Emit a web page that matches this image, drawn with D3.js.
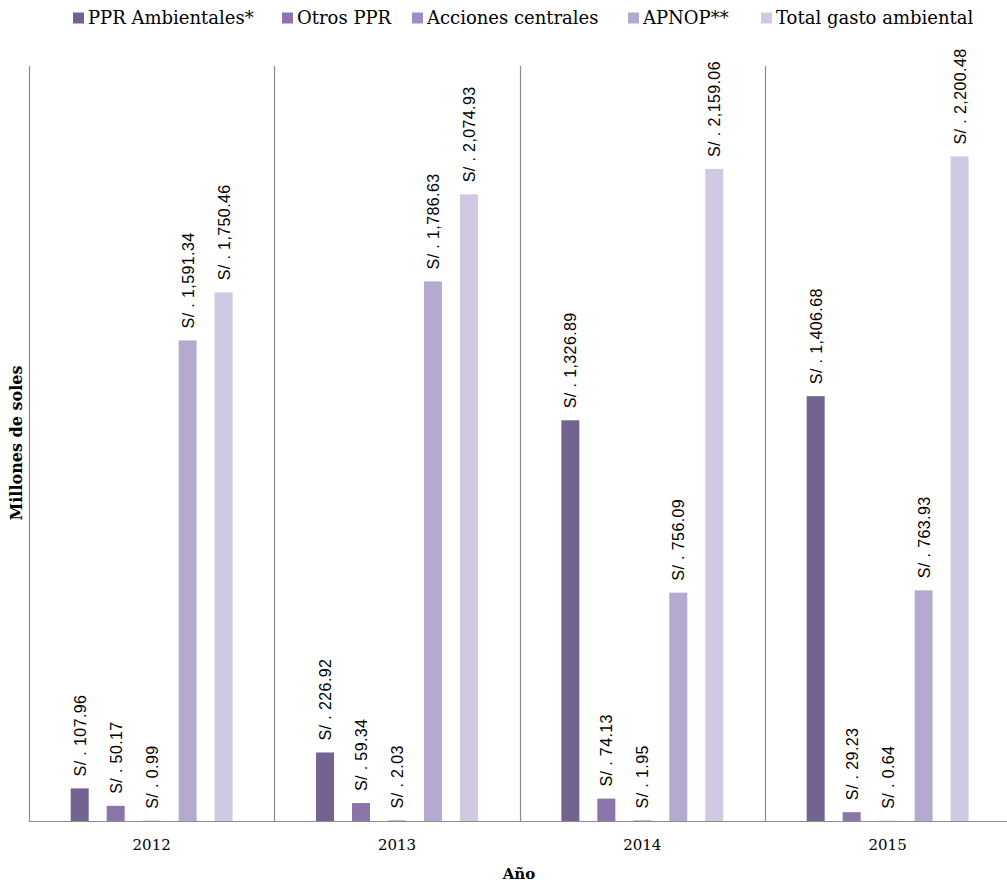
<!DOCTYPE html>
<html>
<head>
<meta charset="utf-8">
<script src="https://cdn.jsdelivr.net/npm/d3@7"></script>
<style>
  body { margin: 0; background: #fff; }
  svg { display: block; }
</style>
</head>
<body>
<div class="chart"></div>
<script>
// Data
const years = ['2012', '2013', '2014', '2015'];
const series = ['PPR Ambientales*', 'Otros PPR', 'Acciones centrales', 'APNOP**', 'Total gasto ambiental'];
const pprAmbientales = [107.96, 226.92, 1326.89, 1406.68];
const otrosPPR = [50.17, 59.34, 74.13, 29.23];
const accionesCentrales = [0.99, 2.03, 1.95, 0.64];
const apnop = [1591.34, 1786.63, 756.09, 763.93];
const totalGasto = [1750.46, 2074.93, 2159.06, 2200.48];
const colors = ['#75638f', '#8b74aa', '#a08bc6', '#b6a9cf', '#d0c9e1'];

const valuesBySeries = [pprAmbientales, otrosPPR, accionesCentrales, apnop, totalGasto];

const svgWidth = 1007;
const svgHeight = 883;

// plot area (right side is cut off in the reference)
const plot = { left: 29, right: 1010.3, top: 66, bottom: 821 };

const svg = d3
  .select('.chart')
  .append('svg')
  .attr('width', svgWidth)
  .attr('height', svgHeight);

// Build a flat table from the arrays
const rows = [];
years.forEach((year, i) => {
  series.forEach((s, j) => {
    rows.push({ year: year, series: s, value: valuesBySeries[j][i], color: colors[j] });
  });
});

// Scales
const x0 = d3.scaleBand().domain(years).range([plot.left, plot.right]).padding(0);
const x1 = d3
  .scaleBand()
  .domain(series)
  .range([0, x0.bandwidth()])
  .paddingInner(0.5)
  .paddingOuter(1.16);
const y = d3.scaleLinear().domain([0, 2500]).range([plot.bottom, plot.top]);

// Category separators
const sepGroup = svg.append('g');
years.forEach((year) => {
  sepGroup
    .append('line')
    .attr('x1', Math.round(x0(year)) + 0.5)
    .attr('x2', Math.round(x0(year)) + 0.5)
    .attr('y1', plot.top)
    .attr('y2', plot.bottom)
    .attr('stroke', '#8c8c8c')
    .attr('stroke-width', 1.2);
});

// Bars
svg
  .append('g')
  .selectAll('rect')
  .data(rows)
  .enter()
  .append('rect')
  .attr('x', (d) => x0(d.year) + x1(d.series))
  .attr('y', (d) => y(d.value))
  .attr('width', x1.bandwidth())
  .attr('height', (d) => plot.bottom - y(d.value))
  .attr('fill', (d) => d.color);

// Value labels (rotated)
const fmt = d3.format(',.2f');
svg
  .append('g')
  .selectAll('text')
  .data(rows)
  .enter()
  .append('text')
  .attr('transform', (d) => {
    const cx = x0(d.year) + x1(d.series) + x1.bandwidth() / 2;
    return `translate(${cx + 6}, ${y(d.value) - 12}) rotate(-90)`;
  })
  .attr('font-family', '"Liberation Sans", Arial, sans-serif')
  .attr('font-size', '16px')
  .attr('letter-spacing', '0.4px')
  .attr('fill', '#000')
  .text((d) => 'S/ . ' + fmt(d.value));

// X axis baseline
svg
  .append('line')
  .attr('x1', plot.left)
  .attr('x2', svgWidth)
  .attr('y1', plot.bottom + 0.5)
  .attr('y2', plot.bottom + 0.5)
  .attr('stroke', '#8c8c8c')
  .attr('stroke-width', 1.2);

// Year tick labels
svg
  .append('g')
  .selectAll('text')
  .data(years)
  .enter()
  .append('text')
  .attr('x', (d) => x0(d) + x0.bandwidth() / 2)
  .attr('y', 850)
  .attr('text-anchor', 'middle')
  .attr('font-family', '"DejaVu Serif", serif')
  .attr('font-size', '15px')
  .attr('fill', '#000')
  .text((d) => d);

// Axis titles
svg
  .append('text')
  .attr('x', 519)
  .attr('y', 879)
  .attr('text-anchor', 'middle')
  .attr('font-family', '"DejaVu Serif", serif')
  .attr('font-weight', 'bold')
  .attr('font-size', '15px')
  .text('Año');

svg
  .append('text')
  .attr('transform', 'translate(22, 443) rotate(-90)')
  .attr('text-anchor', 'middle')
  .attr('font-family', '"DejaVu Serif", serif')
  .attr('font-weight', 'bold')
  .attr('font-size', '16px')
  .text('Millones de soles');

// Legend
const legendX = [73, 282, 412, 628, 761];
const legend = svg.append('g');
series.forEach((s, j) => {
  legend
    .append('rect')
    .attr('x', legendX[j])
    .attr('y', 12.5)
    .attr('width', 11)
    .attr('height', 11)
    .attr('fill', colors[j]);
  legend
    .append('text')
    .attr('x', legendX[j] + 15)
    .attr('y', 24)
    .attr('font-family', '"DejaVu Serif", serif')
    .attr('font-size', '18px')
    .attr('fill', '#000')
    .text(s);
});
</script>
</body>
</html>
